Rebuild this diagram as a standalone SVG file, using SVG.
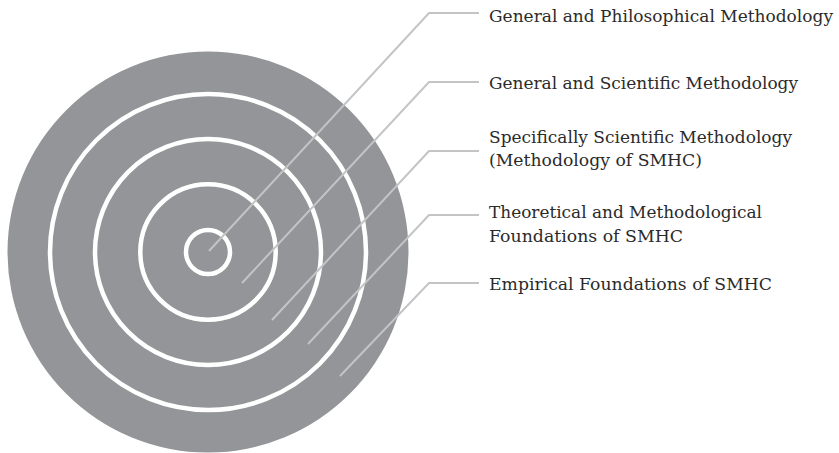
<svg xmlns="http://www.w3.org/2000/svg" width="839" height="453" viewBox="0 0 839 453">
<style>
.ring{fill:none;stroke:#ffffff;stroke-width:4.5}
.conn{fill:none;stroke:#c3c4c6;stroke-width:2}
.lbl{font-family:"DejaVu Serif","Liberation Serif",serif;font-size:17px;fill:#2b2b2b}
</style>
<rect width="839" height="453" fill="#ffffff"/>
<g id="target">
<circle cx="208" cy="252" r="200.5" fill="#939598"/>
<circle class="ring" cx="208" cy="252" r="158"/>
<circle class="ring" cx="208" cy="252" r="113"/>
<circle class="ring" cx="208" cy="252" r="67.7"/>
<circle class="ring" cx="208" cy="252" r="22"/>
</g>
<g id="connectors">
<polyline class="conn" points="209,251 429,13 479,13"/>
<polyline class="conn" points="242,283 429,82 479,82"/>
<polyline class="conn" points="272,320 429,151 479,151"/>
<polyline class="conn" points="308,344 429,215 479,215"/>
<polyline class="conn" points="340,376 429,283 479,283"/>
</g>
<g id="label1"><text class="lbl" x="489" y="22" textLength="344" lengthAdjust="spacingAndGlyphs">General and Philosophical Methodology</text></g>
<g id="label2"><text class="lbl" x="489" y="88.5" textLength="309" lengthAdjust="spacingAndGlyphs">General and Scientific Methodology</text></g>
<g id="label3"><text class="lbl" x="489" y="142.5" textLength="303" lengthAdjust="spacingAndGlyphs">Specifically Scientific Methodology</text><text class="lbl" x="489" y="166" textLength="213" lengthAdjust="spacingAndGlyphs">(Methodology of SMHC)</text></g>
<g id="label4"><text class="lbl" x="489" y="218" textLength="273" lengthAdjust="spacingAndGlyphs">Theoretical and Methodological</text><text class="lbl" x="489" y="242" textLength="194" lengthAdjust="spacingAndGlyphs">Foundations of SMHC</text></g>
<g id="label5"><text class="lbl" x="489" y="290" textLength="283" lengthAdjust="spacingAndGlyphs">Empirical Foundations of SMHC</text></g>
</svg>
